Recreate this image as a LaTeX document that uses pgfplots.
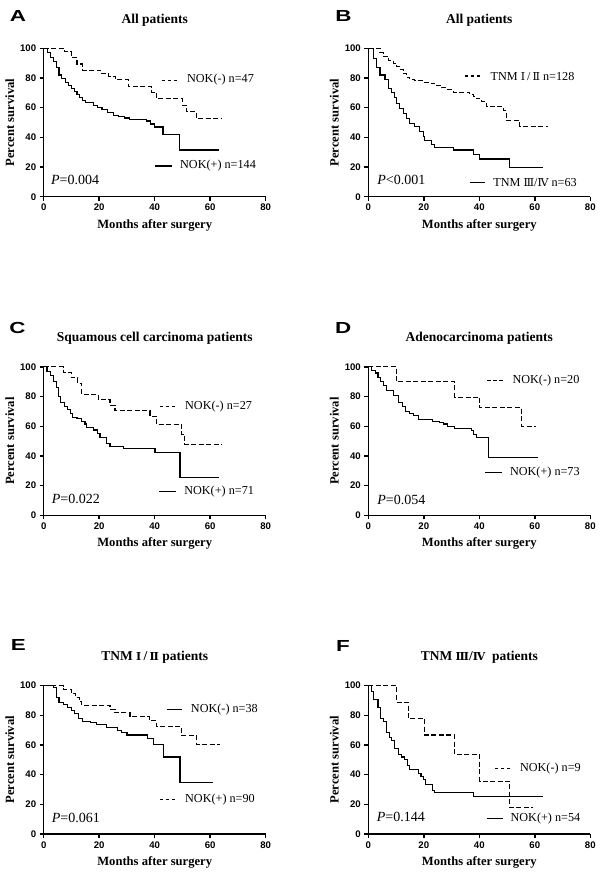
\documentclass[border=0pt]{standalone}
\usepackage{fontspec}
\setmainfont{Liberation Serif}
\setsansfont{Liberation Sans}
\newfontfamily\rom{DejaVu Serif}
\usepackage{graphicx}
\usepackage{pgfplots}
\pgfplotsset{compat=1.18}
\pgfplotsset{km/.style={
  scale only axis, width=222pt, height=148.4pt,
  xmin=0, xmax=80, ymin=0, ymax=100, enlargelimits=false,
  axis lines=left, axis line style={-, line width=1.5pt},
  xtick={0,20,40,60,80}, ytick={0,20,40,60,80,100},
  tick align=outside, major tick length=4pt,
  major tick style={line width=1.5pt, black},
  tick label style={font=\fontsize{9.6}{10}\sffamily\bfseries},
  /pgf/number format/assume math mode=true,
  xlabel={Months after surgery}, ylabel={Percent survival},
  label style={font=\fontsize{12.6}{13}\selectfont\bfseries},
  xlabel style={at={(axis description cs:0.5,-0.192)}, anchor=center},
  ylabel style={at={(axis description cs:-0.153,0.5)}, anchor=center},
  title style={font=\fontsize{13.5}{14}\selectfont\bfseries, at={(axis description cs:0.5,1.151)}, anchor=center},
  clip=false,
  anchor=south west,
}}
\tikzset{
  sol/.style={const plot, black, line width=1.1pt, no markers},
  das/.style={const plot, black, line width=1.1pt, no markers, dash pattern=on 5pt off 2.5pt},
  legsol/.style={black, line width=1.1pt},
  legdas/.style={black, line width=1.1pt, dash pattern=on 3.5pt off 2.5pt},
  legtxt/.style={anchor=west, inner sep=0pt, font=\fontsize{12.2}{13}\selectfont},
  ptxt/.style={anchor=west, inner sep=0pt, font=\fontsize{14}{15}\selectfont},
  letter/.style={anchor=center, inner sep=0pt, font=\fontsize{16}{16}\sffamily\bfseries},
}
\newcommand{\RI}{{\rom\fontsize{11}{12}\selectfont Ⅰ}}
\newcommand{\RII}{{\rom\fontsize{11}{12}\selectfont Ⅱ}}
\newcommand{\RIII}{{\rom\fontsize{11}{12}\selectfont Ⅲ}}
\newcommand{\RIV}{{\rom\fontsize{11}{12}\selectfont Ⅳ}}
\begin{document}
\begin{tikzpicture}
\path[use as bounding box] (0pt,0pt) rectangle (600pt,-874pt);
% Panel letters
\node[letter] at (18pt,-15.7pt) {\scalebox{1.4}[1]{A}};
\node[letter] at (343.5pt,-15.7pt) {\scalebox{1.4}[1]{B}};
\node[letter] at (17.5pt,-327.5pt) {\scalebox{1.4}[1]{C}};
\node[letter] at (343.3pt,-327.5pt) {\scalebox{1.4}[1]{D}};
\node[letter] at (18.3pt,-645pt) {\scalebox{1.4}[1]{E}};
\node[letter] at (343pt,-645.8pt) {\scalebox{1.4}[1]{F}};

% ---------------- A
\begin{axis}[km, at={(43.7pt,-196.7pt)}, title={All patients}]
\addplot[das] coordinates {(0,100)(7.5,97.8)(10,93.5)(12,89.4)(14,85.1)(20.5,83)(23.5,81)(26,78.7)(30.5,74.2)(39,70.5)(40.7,66)(50,61.5)(51.5,57.2)(55,52.5)(64,52.5)};
\addplot[sol] coordinates {(0,100)(1.5,97)(2.5,94)(3.5,91)(4.5,87)(5.5,82)(6.5,79.5)(8,77)(9,75)(10,73)(11,71)(12,69)(13,67)(14,65)(15,63.5)(18,61.5)(19.5,60)(21,58.5)(23,56.5)(25,55)(27,54)(29,53)(31,52)(37,51)(38.5,49)(40,47)(43,42)(49,31.5)(63,31.5)};
\draw[legdas] (axis cs:42.6,78.6) -- (axis cs:48.4,78.6);
\node[legtxt] at (axis cs:51.6,78.6) {NOK(-) n=47};
\draw[legsol] (axis cs:40.1,20.7) -- (axis cs:46.2,20.7);
\node[legtxt] at (axis cs:49.1,20.7) {NOK(+) n=144};
\node[ptxt] at (axis cs:2.6,11.3) {\textit{P}=0.004};
\end{axis}

% ---------------- B
\begin{axis}[km, at={(368.3pt,-196.7pt)}, title={All patients}]
\addplot[das] coordinates {(0,100)(4.2,97)(5.4,94.5)(7.2,92)(9,90)(10.2,88)(11.4,86)(12.6,83)(13.8,80.5)(15,79)(16.8,78)(19.8,77)(22.8,76)(24.6,75)(26.4,73.5)(28.2,72)(30.6,70.3)(36.6,69)(37.8,67.5)(39,66)(40.8,64)(42.6,60.7)(48.6,58)(49.8,51.5)(54.6,47.6)(64.7,47.6)};
\addplot[sol] coordinates {(0,100)(1.8,93)(3,87)(4.2,82)(6,79)(7.2,73)(8.4,70)(9.6,67)(10.2,63)(11.4,59.5)(12.6,56)(13.8,52.5)(15,49.5)(16.8,47.5)(18.6,44)(19.8,40.5)(20.4,38)(22.8,35)(24,33.3)(30.6,31.5)(37.8,28.5)(40.2,25.4)(51,19.5)(63,19.5)};
\draw[legdas] (axis cs:34.8,81.3) -- (axis cs:40.8,81.3);
\node[legtxt] at (axis cs:44,81.3) {TNM\ \RI\,/\,\RII\ n=128};
\draw[legsol] (axis cs:36.6,9.4) -- (axis cs:42,9.4);
\node[legtxt] at (axis cs:45,9.4) {TNM \RIII/\RIV\ n=63};
\node[ptxt] at (axis cs:3.2,11.2) {\textit{P}<0.001};
\end{axis}

% ---------------- C
\begin{axis}[km, at={(43.7pt,-515.3pt)}, title={Squamous cell carcinoma patients}]
\addplot[das] coordinates {(0,100)(7.1,96.3)(10,92.6)(12.3,88.9)(13.7,81.5)(19.7,77.8)(23.9,74.1)(25.7,70.4)(38.3,66.7)(40.7,61.2)(49.8,54.4)(50.9,47.8)(64.1,47.8)};
\addplot[sol] coordinates {(0,100)(1.2,97.2)(2.5,94.4)(3.5,90)(4.5,86)(5.2,80)(5.9,75.8)(7.5,73.5)(8.5,71.5)(9.5,68.5)(10.5,66)(12,65.2)(13.5,63.5)(14.9,61.5)(15.5,59.2)(18,57.5)(19.5,55)(20.3,52.2)(22.7,48.5)(23.9,46.5)(28.7,45)(40.1,42.5)(49.1,25.5)(63.2,25.5)};
\draw[legdas] (axis cs:41.9,73.1) -- (axis cs:47.9,73.1);
\node[legtxt] at (axis cs:50.9,73.1) {NOK(-) n=27};
\draw[legsol] (axis cs:41.7,15.9) -- (axis cs:47.7,15.9);
\node[legtxt] at (axis cs:50.6,15.9) {NOK(+) n=71};
\node[ptxt] at (axis cs:2.9,11) {\textit{P}=0.022};
\end{axis}

% ---------------- D
\begin{axis}[km, at={(368.3pt,-515.3pt)}, title={Adenocarcinoma patients}]
\addplot[das] coordinates {(0,100)(10.2,89.9)(31.2,79.6)(40.2,72.4)(55.2,60.1)(60.6,60.1)};
\addplot[sol] coordinates {(0,100)(1.2,97.3)(2.5,95.9)(3.5,93)(4.5,90.4)(5.5,87.5)(6.5,84)(9,81)(11,76)(12.3,73.5)(13.5,70)(15,68.5)(16.2,67)(18,64.6)(23,63.5)(25.5,62.8)(27,61.5)(28.5,60)(31,58.5)(37.2,57)(38,54.5)(39,52.2)(43.2,38.8)(61.2,38.8)};
\draw[legdas] (axis cs:42.9,90.6) -- (axis cs:48.6,90.6);
\node[legtxt] at (axis cs:51.9,90.6) {NOK(-) n=20};
\draw[legsol] (axis cs:42,28.7) -- (axis cs:48,28.7);
\node[legtxt] at (axis cs:51,28.7) {NOK(+) n=73};
\node[ptxt] at (axis cs:3.2,10.3) {\textit{P}=0.054};
\end{axis}

% ---------------- E
\begin{axis}[km, at={(43.7pt,-834pt)}, title={TNM\ \RI\,/\,\RII\ patients}]
\addplot[das] coordinates {(0,100)(7.1,97.4)(10,94.7)(11.5,92)(13,89.4)(13.7,86.8)(23.9,84.2)(25.7,81.6)(31.1,78.9)(38,76.3)(40.7,72.5)(49.7,66.4)(55.1,60.4)(63.5,60.4)};
\addplot[sol] coordinates {(0,100)(3.5,98.9)(4.7,92.2)(5.5,88.9)(7,87.5)(8.5,85.5)(10,83.5)(11,81)(12.5,78)(14,76)(17,75)(19,73.5)(22.5,71.5)(26.5,70)(28,68.5)(30,66.7)(37.5,64.5)(39.5,60.4)(43.1,51.9)(49.1,34.7)(61.1,34.7)};
\draw[legsol] (axis cs:44.3,83.9) -- (axis cs:49.7,83.9);
\node[legtxt] at (axis cs:53,83.9) {NOK(-) n=38};
\draw[legdas] (axis cs:41.9,23.3) -- (axis cs:47.9,23.3);
\node[legtxt] at (axis cs:50.9,23.3) {NOK(+) n=90};
\node[ptxt] at (axis cs:2.9,11) {\textit{P}=0.061};
\end{axis}

% ---------------- F
\begin{axis}[km, at={(368.3pt,-834pt)}, title={TNM \RIII/\RIV\ \ patients}]
\addplot[das] coordinates {(0,100)(10.2,88.9)(14.4,77.8)(20.4,66.7)(31.2,53.3)(40.2,35.6)(51,17.8)(59.4,17.8)};
\addplot[sol] coordinates {(0,100)(1.2,96.3)(2,90.7)(3.5,85.2)(4.5,77.8)(5.5,75.9)(6.5,68.5)(7.5,64.8)(8.5,63)(9.5,57.4)(11,53.7)(12,51.9)(13,50)(14,46.3)(15,43.5)(18,40.7)(19,38.9)(20,37)(20.5,33.5)(23,29.6)(24,27.8)(38,25)(63,25)};
\draw[legdas] (axis cs:45.6,44.1) -- (axis cs:51.6,44.1);
\node[legtxt] at (axis cs:54.6,44.1) {NOK(-) n=9};
\draw[legsol] (axis cs:42.6,10.3) -- (axis cs:48.6,10.3);
\node[legtxt] at (axis cs:51.2,10.3) {NOK(+) n=54};
\node[ptxt] at (axis cs:3,11.2) {\textit{P}=0.144};
\end{axis}
\end{tikzpicture}
\end{document}
